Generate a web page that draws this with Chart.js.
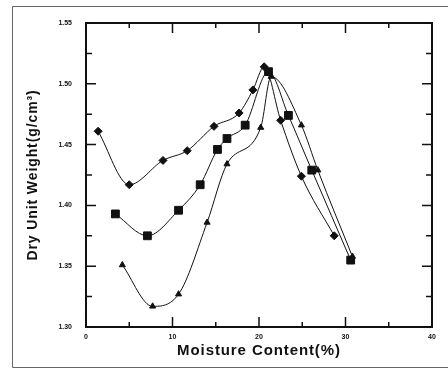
<!DOCTYPE html>
<html>
<head>
<meta charset="utf-8">
<script src="https://cdn.jsdelivr.net/npm/chart.js@4.4.1/dist/chart.umd.min.js"></script>
<style>
  html, body { margin: 0; padding: 0; background: #fff; }
  canvas { display: block; }
</style>
</head>
<body>
<canvas id="chart" width="448" height="370"></canvas>
<script>
// Datos (humedad %, peso unitario seco g/cm3)
const diamondX = [1.4, 5.0, 8.9, 11.7, 14.8, 17.7, 19.3, 20.6, 22.5, 24.9, 28.7];
const diamondY = [1.461, 1.417, 1.437, 1.445, 1.465, 1.476, 1.495, 1.514, 1.470, 1.424, 1.375];

const squareX = [3.4, 7.1, 10.7, 13.2, 15.2, 16.3, 18.4, 21.1, 23.4, 26.1, 30.6];
const squareY = [1.393, 1.375, 1.396, 1.417, 1.446, 1.455, 1.466, 1.510, 1.474, 1.429, 1.355];

const triangleX = [4.2, 7.7, 10.7, 14.0, 16.3, 20.2, 21.4, 24.9, 26.8, 30.8];
const triangleY = [1.351, 1.317, 1.327, 1.386, 1.434, 1.464, 1.506, 1.466, 1.429, 1.358];

const xTicks = [0, 10, 20, 30, 40];
const yTicks = [1.30, 1.35, 1.40, 1.45, 1.50, 1.55];

function toPoints(xs, ys) {
  return xs.map((x, i) => ({ x: x, y: ys[i] }));
}

// Espaciado de letras solo para los títulos de los ejes
const spacingPlugin = {
  id: 'spacing',
  beforeDraw(chart) { chart.ctx.letterSpacing = '0.9px'; },
  beforeDatasetsDraw(chart) { chart.ctx.letterSpacing = '0px'; }
};

// Marco, ejes y marcas hacia dentro
const framePlugin = {
  id: 'frame',
  afterDraw(chart) {
    const ctx = chart.ctx;
    const a = chart.chartArea;
    const xs = chart.scales.x;
    const ys = chart.scales.y;
    ctx.save();
    // marco exterior
    ctx.strokeStyle = '#666';
    ctx.lineWidth = 1;
    ctx.beginPath();
    ctx.moveTo(448, 6.5); ctx.lineTo(12.5, 6.5); ctx.lineTo(12.5, 367.5); ctx.lineTo(448, 367.5);
    ctx.stroke();

    ctx.strokeStyle = '#111';
    ctx.lineWidth = 2;
    ctx.strokeRect(a.left, a.top, a.right - a.left, a.bottom - a.top);

    ctx.lineWidth = 1.5;
    ctx.beginPath();
    for (let v = 0; v <= 40; v += 5) {
      const px = xs.getPixelForValue(v);
      const len = v % 10 === 0 ? 10 : 5;
      ctx.moveTo(px, a.bottom); ctx.lineTo(px, a.bottom - len);
      ctx.moveTo(px, a.top); ctx.lineTo(px, a.top + len);
    }
    for (let v = 1.30; v <= 1.5501; v += 0.025) {
      const py = ys.getPixelForValue(v);
      const major = Math.abs(Math.round(v * 20) - v * 20) < 0.01;
      const len = major ? 10 : 6;
      ctx.moveTo(a.left, py); ctx.lineTo(a.left + len, py);
      ctx.moveTo(a.right, py); ctx.lineTo(a.right - len, py);
    }
    ctx.stroke();
    ctx.restore();
  }
};

const common = {
  borderColor: '#111',
  backgroundColor: '#111',
  pointBackgroundColor: '#111',
  pointBorderColor: '#111',
  borderWidth: 1,
  showLine: true,
  cubicInterpolationMode: 'monotone'
};

new Chart(document.getElementById('chart').getContext('2d'), {
  type: 'scatter',
  data: {
    datasets: [
      Object.assign({ label: 'A', data: toPoints(diamondX, diamondY), pointStyle: 'rectRot', pointRadius: 4 }, common),
      Object.assign({ label: 'B', data: toPoints(squareX, squareY), pointStyle: 'rect', pointRadius: 5.5 }, common),
      Object.assign({ label: 'C', data: toPoints(triangleX, triangleY), pointStyle: 'triangle', pointRadius: 3.5 }, common)
    ]
  },
  options: {
    responsive: false,
    animation: false,
    layout: { padding: { left: 20, right: 16, top: 23, bottom: 6 } },
    plugins: {
      legend: { display: false },
      tooltip: { enabled: false }
    },
    scales: {
      x: {
        type: 'linear',
        min: 0, max: 40,
        afterFit: s => { s.height = 37; },
        afterBuildTicks: s => { s.ticks = xTicks.map(v => ({ value: v })); },
        grid: { display: false, drawTicks: false },
        border: { display: false },
        ticks: {
          z: 1,
          padding: 6,
          color: '#111',
          font: { family: 'Liberation Sans, Arial, sans-serif', size: 7, weight: 'bold' }
        },
        title: {
          display: true,
          text: 'Moisture Content(%)',
          color: '#111',
          padding: { top: 0, bottom: 4 },
          font: { family: 'Liberation Sans, Arial, sans-serif', size: 15, weight: 'bold' }
        }
      },
      y: {
        type: 'linear',
        min: 1.30, max: 1.55,
        afterFit: s => { s.width = 66; },
        afterBuildTicks: s => { s.ticks = yTicks.map(v => ({ value: v })); },
        grid: { display: false, drawTicks: false },
        border: { display: false },
        ticks: {
          z: 1,
          padding: 14,
          color: '#111',
          font: { family: 'Liberation Sans, Arial, sans-serif', size: 7, weight: 'bold' },
          callback: v => Number(v).toFixed(2)
        },
        title: {
          display: true,
          text: 'Dry Unit Weight(g/cm³)',
          color: '#111',
          padding: { top: 5, bottom: 0 },
          font: { family: 'Liberation Sans, Arial, sans-serif', size: 14, weight: 'bold' }
        }
      }
    }
  },
  plugins: [spacingPlugin, framePlugin]
});
</script>
</body>
</html>
